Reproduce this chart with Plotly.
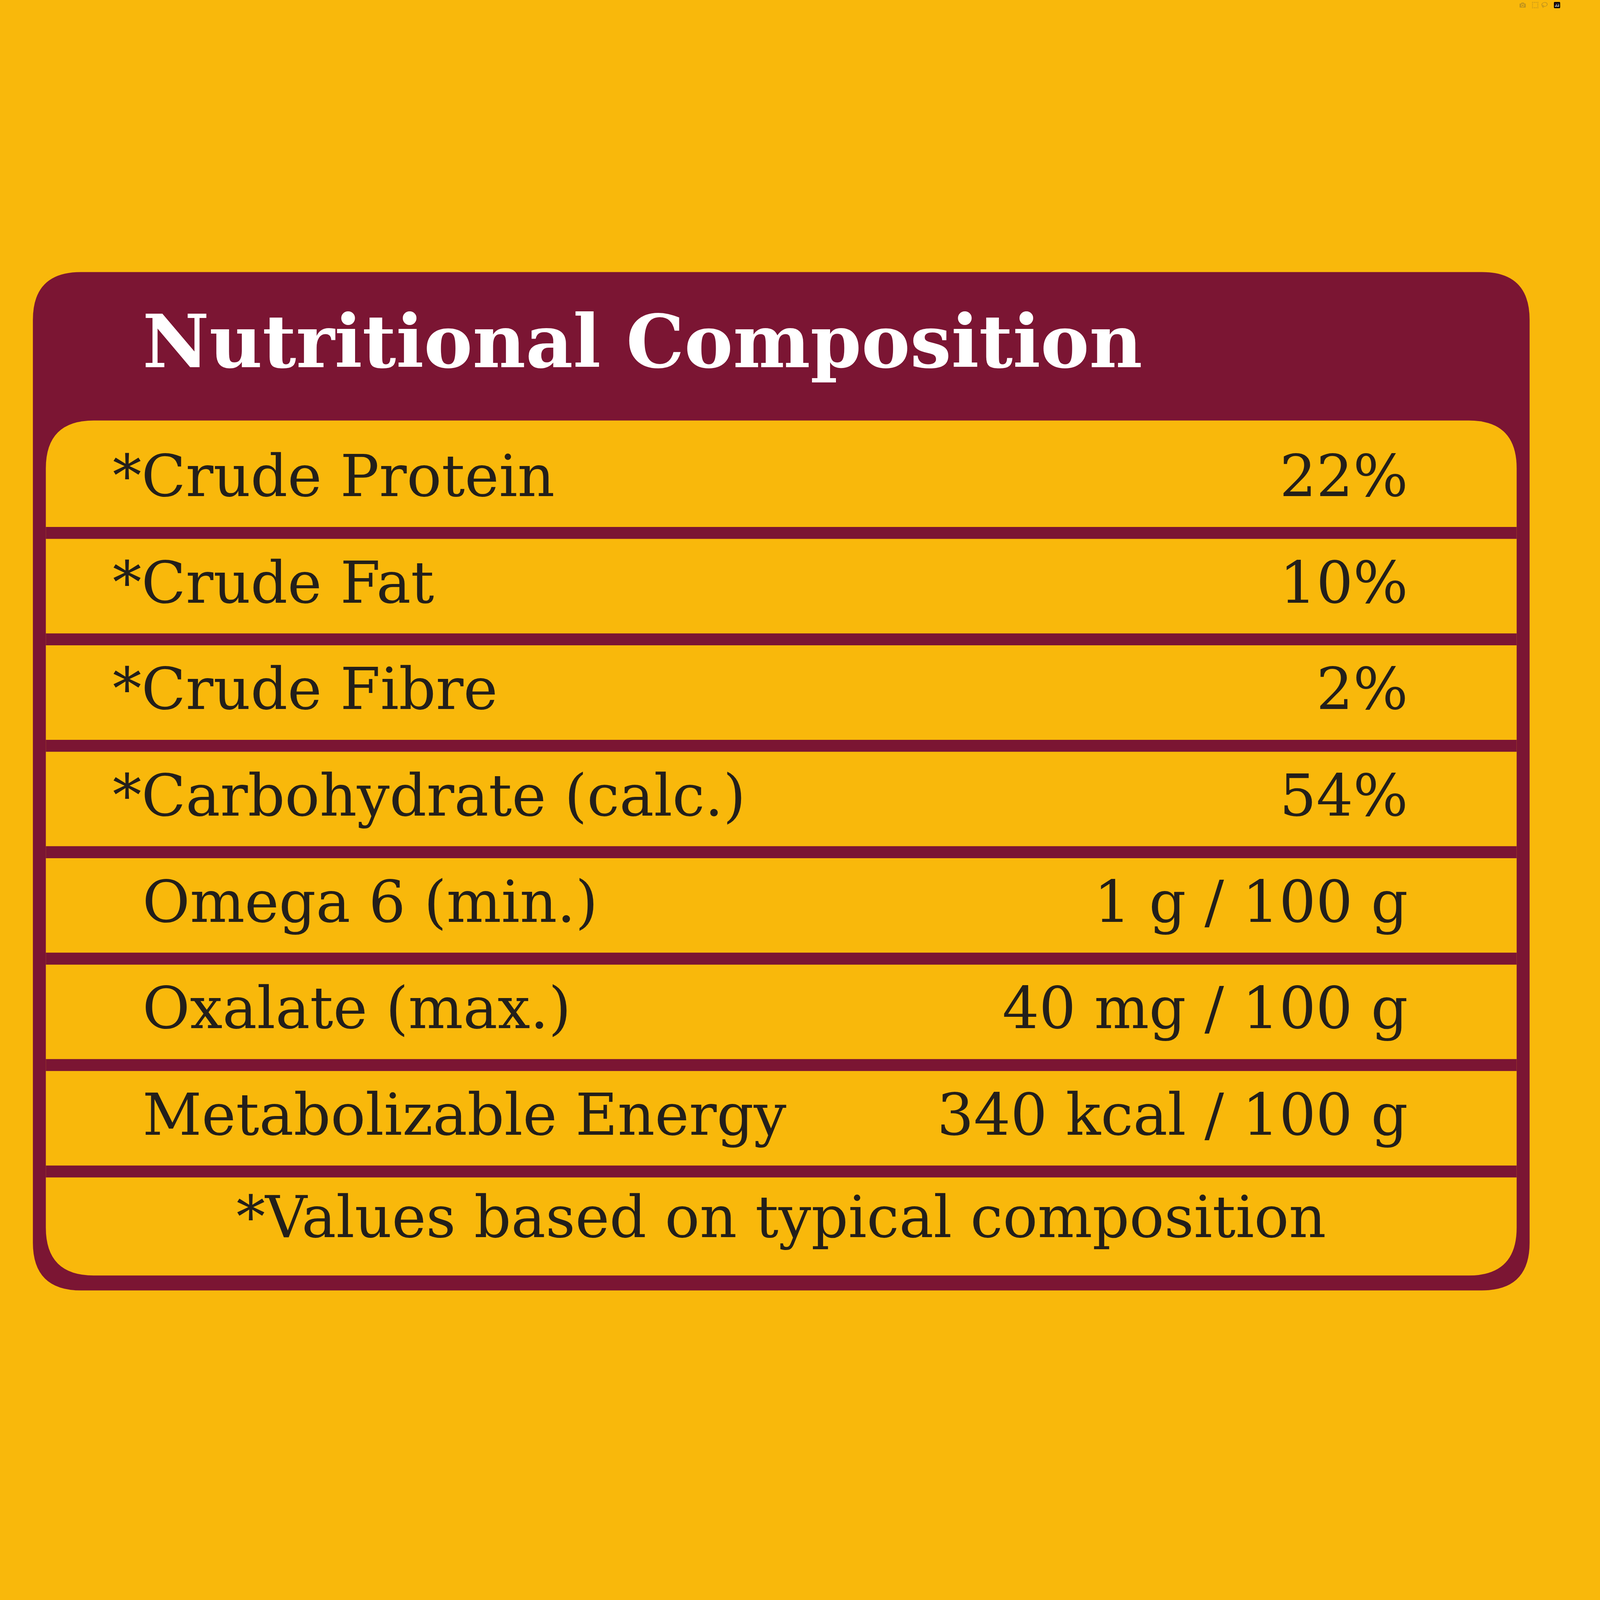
import plotly.graph_objects as go

title = "Nutritional Composition"
nutrients = ["*Crude Protein", "*Crude Fat", "*Crude Fibre", "*Carbohydrate (calc.)",
             "Omega 6 (min.)", "Oxalate (max.)", "Metabolizable Energy"]
amounts = ["22%", "10%", "2%", "54%", "1 g / 100 g", "40 mg / 100 g", "340 kcal / 100 g"]
footnote = "*Values based on typical composition"

YEL = "#F9B80B"
MAR = "#7B1533"
INK = "#231F1A"
FONT = "DejaVu Serif"
SIZE = 4000

def rrect(x0, y0, x1, y1, r):
    return (f"M{x0+r},{y0} L{x1-r},{y0} Q{x1},{y0} {x1},{y0+r} "
            f"L{x1},{y1-r} Q{x1},{y1} {x1-r},{y1} L{x0+r},{y1} Q{x0},{y1} {x0},{y1-r} "
            f"L{x0},{y0+r} Q{x0},{y0} {x0+r},{y0} Z")

top, row_h = 430, 106.8
centers = [top + row_h * (i + 0.5) for i in range(len(nutrients))]
shapes = [
    dict(type="path", path=rrect(33, 273, 1535, 1295, 48), fillcolor=MAR, line_width=0, xref="x", yref="y", layer="below"),
    dict(type="path", path=rrect(46, 422, 1522, 1280, 48), fillcolor=YEL, line_width=0, xref="x", yref="y", layer="below"),
]
for i in range(1, len(nutrients) + 1):
    yb = top + row_h * i - 2
    shapes.append(dict(type="rect", x0=46, x1=1522, y0=yb - 6, y1=yb + 6, fillcolor=MAR,
                       line_width=0, xref="x", yref="y", layer="below"))

fig = go.Figure()
fig.add_trace(go.Scatter(
    x=[113 if n.startswith("*") else 143 for n in nutrients], y=centers, text=nutrients,
    mode="text", textposition="middle right",
    textfont=dict(family=FONT, size=148, color=INK), hoverinfo="skip"))
fig.add_trace(go.Scatter(
    x=[1413] * len(amounts), y=centers, text=amounts, mode="text", textposition="middle left",
    textfont=dict(family=FONT, size=148, color=INK), hoverinfo="skip"))
fig.add_trace(go.Scatter(
    x=[784], y=[1227], text=[footnote], mode="text", textposition="middle center",
    textfont=dict(family=FONT, size=148, color=INK), hoverinfo="skip"))
fig.add_trace(go.Scatter(
    x=[143], y=[350], text=[f"<b>{title}</b>"], mode="text", textposition="middle right",
    textfont=dict(family=FONT, size=187, color="white"), hoverinfo="skip"))

fig.update_layout(
    width=SIZE, height=SIZE, margin=dict(l=0, r=0, t=0, b=0),
    paper_bgcolor=YEL, plot_bgcolor=YEL, showlegend=False, shapes=shapes,
    xaxis=dict(range=[0, 1568], visible=False, fixedrange=True),
    yaxis=dict(range=[1568, 0], visible=False, fixedrange=True),
)
fig.write_html("out.html",
               post_script="document.body.style.margin='0';document.body.style.background='#F9B80B';document.body.style.overflow='hidden';")
